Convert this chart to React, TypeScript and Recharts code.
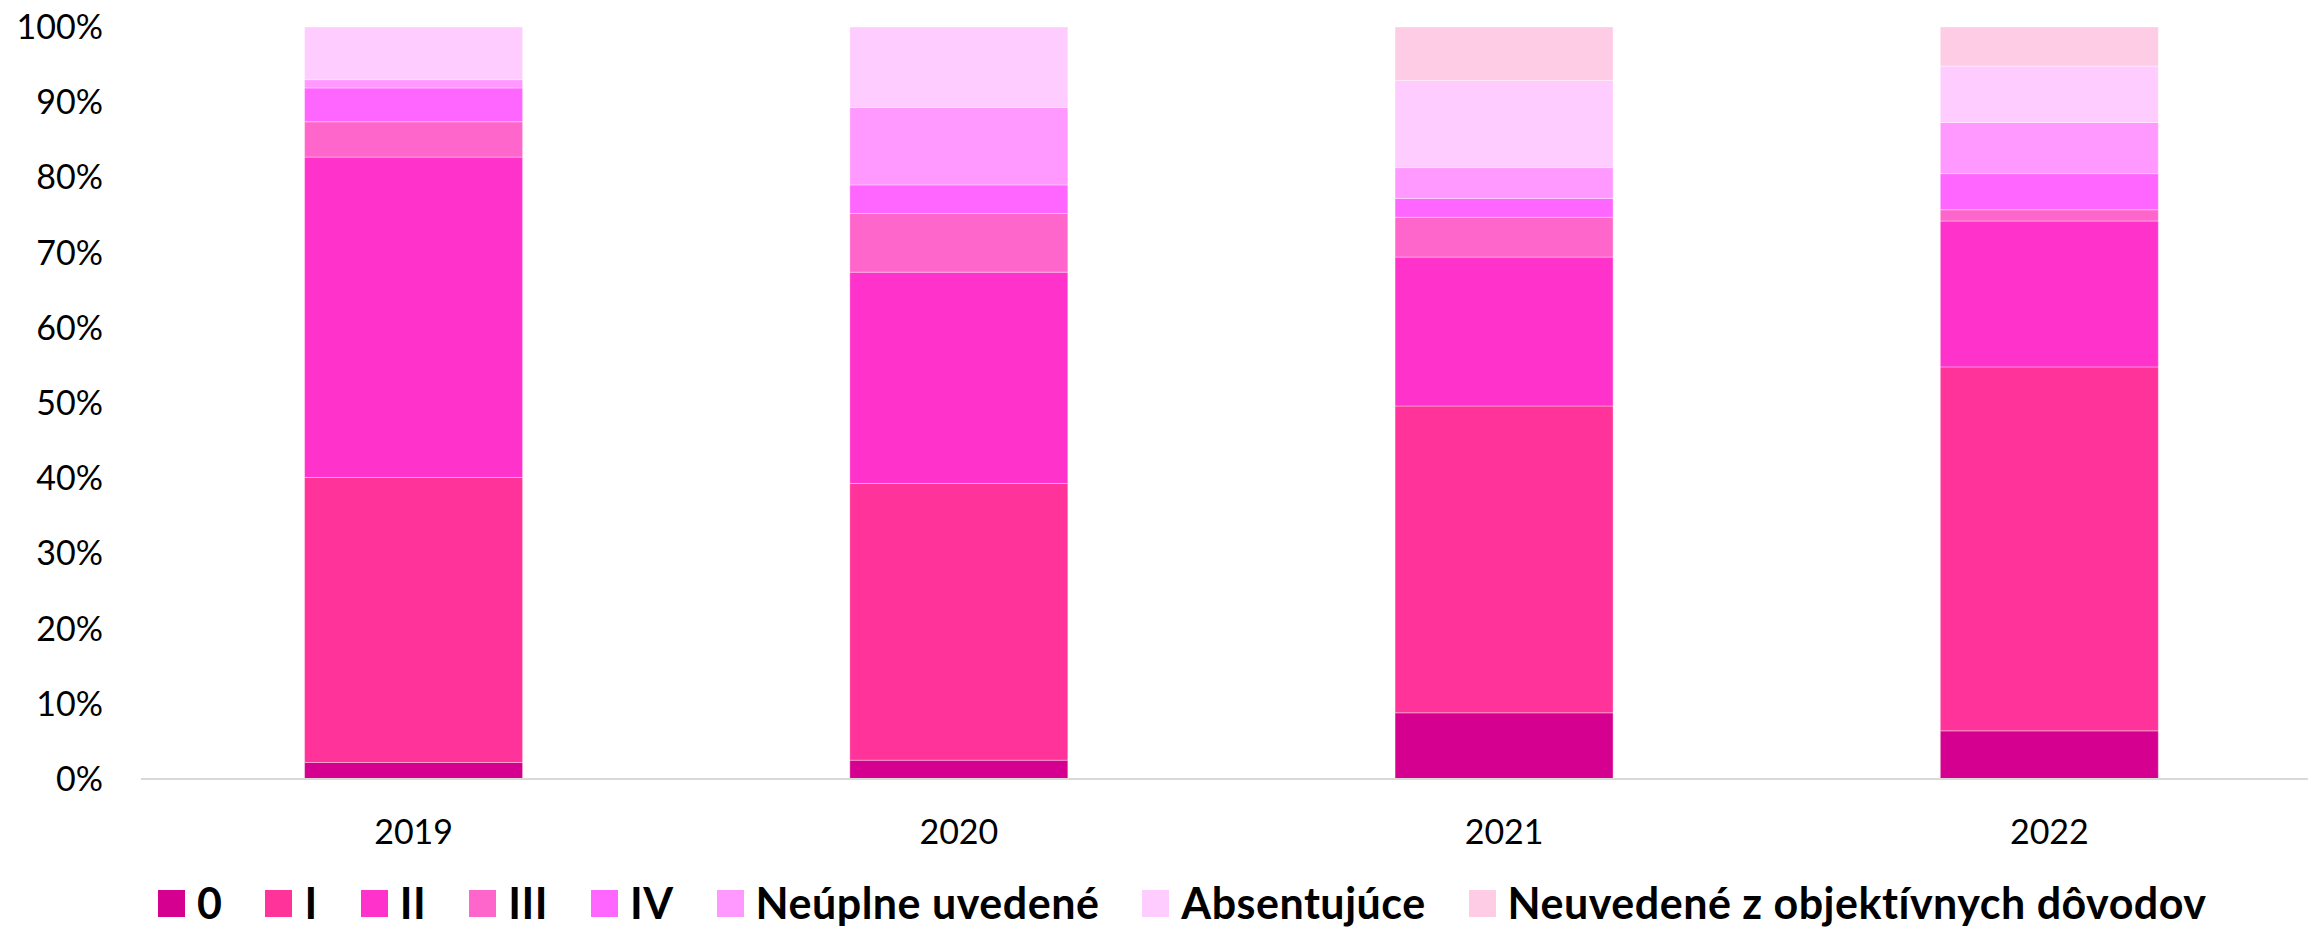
import React from 'react';
import { BarChart, Bar, XAxis, YAxis, Legend } from 'recharts';

const categories = ['2019', '2020', '2021', '2022'];
const s0 = [2.2, 2.5, 8.8, 6.4];
const sI = [37.9, 36.8, 40.8, 48.4];
const sII = [42.6, 28.1, 19.8, 19.4];
const sIII = [4.7, 7.8, 5.3, 1.5];
const sIV = [4.5, 3.8, 2.5, 4.8];
const sNeuplne = [1.1, 10.3, 4.1, 6.8];
const sAbsent = [7.0, 10.7, 11.6, 7.5];
const sNeuvedene = [0, 0, 7.1, 5.2];
const yTicks = [0, 10, 20, 30, 40, 50, 60, 70, 80, 90, 100];

const seriesNames = ['0', 'I', 'II', 'III', 'IV', 'Neúplne uvedené', 'Absentujúce', 'Neuvedené z objektívnych dôvodov'];
const seriesValues = [s0, sI, sII, sIII, sIV, sNeuplne, sAbsent, sNeuvedene];
const seriesColors = ['#D5008F', '#FF3399', '#FF33CC', '#FF66CC', '#FF66FF', '#FF99FF', '#FFCCFF', '#FFCCE6'];

const keys = seriesNames.map((_, i) => `s${i}`);
const data = categories.map((c, ci) => {
  const row: Record<string, any> = { year: c };
  seriesValues.forEach((vals, si) => {
    row[keys[si]] = vals[ci];
  });
  return row;
});

const FONT = 'Lato, "Open Sans", sans-serif';

const renderLegend = () => (
  <div
    style={{
      display: 'flex',
      alignItems: 'center',
      height: 44,
      paddingLeft: 158,
      fontFamily: FONT,
      fontWeight: 700,
      fontSize: 43,
      letterSpacing: '0.5px',
      color: '#000',
      whiteSpace: 'nowrap',
    }}
  >
    {seriesNames.map((n, i) => (
      <div key={n} style={{ display: 'flex', alignItems: 'center', marginRight: 43 }}>
        <div style={{ width: 27, height: 27, background: seriesColors[i], marginRight: 12 }} />
        <span style={{ lineHeight: '44px' }}>{n}</span>
      </div>
    ))}
  </div>
);

export default function App() {
  return (
    <div style={{ position: 'absolute', left: 0, top: 0, width: 2308, height: 930, overflow: 'hidden', background: '#fff' }}>
      <BarChart
        width={2330}
        height={930}
        data={data}
        margin={{ top: 27, right: 8, bottom: 5, left: 0 }}
        barCategoryGap="30%"
      >
        <XAxis
          dataKey="year"
          height={102}
          tickLine={false}
          tickSize={0}
          tickMargin={41}
          axisLine={{ stroke: '#D9D9D9', strokeWidth: 2 }}
          tick={{ fill: '#000', fontSize: 34, fontFamily: FONT }}
        />
        <YAxis
          width={141}
          domain={[0, 100]}
          ticks={yTicks}
          interval={0}
          axisLine={false}
          tickLine={false}
          tickSize={0}
          tickMargin={38}
          tickFormatter={(v: number) => `${v}%`}
          tick={{ fill: '#000', fontSize: 34, fontFamily: FONT }}
        />
        <Legend
          verticalAlign="bottom"
          content={renderLegend}
          wrapperStyle={{ left: 0, width: 2330 }}
        />
        {keys.map((k, i) => (
          <Bar
            key={k}
            dataKey={k}
            name={seriesNames[i]}
            stackId="a"
            fill={seriesColors[i]}
            stroke="#FFFFFF"
            strokeOpacity={0.35}
            strokeWidth={1}
            isAnimationActive={false}
          />
        ))}
      </BarChart>
    </div>
  );
}
